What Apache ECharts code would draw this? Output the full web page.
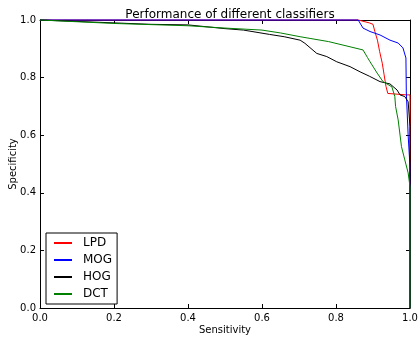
<!DOCTYPE html>
<html>
<head>
<meta charset="utf-8">
<script src="https://cdn.jsdelivr.net/npm/echarts@6/dist/echarts.min.js"></script>
<style>
  html, body { margin: 0; padding: 0; background: #fff; }
  #chart { width: 418px; height: 338px; }
</style>
</head>
<body>
<div id="chart"></div>
<script>
// ROC-style curves: [sensitivity, specificity]
const lpdPoints = [
  [0, 1], [0.86, 1], [0.89, 0.99], [0.9, 0.985], [0.905, 0.96], [0.912, 0.93],
  [0.918, 0.89], [0.925, 0.85], [0.93, 0.81], [0.935, 0.77], [0.94, 0.745],
  [0.99, 0.74], [1.0, 0.74], [1.0, 0.63], [1.0, 0]
];
const mogPoints = [
  [0, 1], [0.86, 1], [0.873, 0.972], [0.892, 0.96], [0.919, 0.948], [0.946, 0.93],
  [0.968, 0.92], [0.981, 0.903], [0.989, 0.868], [0.99, 0.75], [0.995, 0.6],
  [1.0, 0.49], [1.0, 0]
];
const hogPoints = [
  [0, 1], [0.1, 0.995], [0.2, 0.99], [0.3, 0.985], [0.4, 0.983], [0.5, 0.97],
  [0.55, 0.965], [0.62, 0.95], [0.66, 0.942], [0.703, 0.93], [0.716, 0.919],
  [0.748, 0.884], [0.775, 0.873], [0.802, 0.855], [0.838, 0.838], [0.865, 0.82],
  [0.89, 0.805], [0.919, 0.786], [0.946, 0.778], [0.965, 0.757], [0.973, 0.74],
  [0.986, 0.734], [0.995, 0.716], [1.0, 0.63], [1.0, 0]
];
const dctPoints = [
  [0, 1], [0.2, 0.988], [0.4, 0.98], [0.5, 0.972], [0.6, 0.965], [0.65, 0.955],
  [0.703, 0.942], [0.73, 0.936], [0.78, 0.925], [0.838, 0.907], [0.873, 0.896],
  [0.885, 0.87], [0.892, 0.855], [0.911, 0.816], [0.927, 0.786], [0.951, 0.768],
  [0.959, 0.734], [0.961, 0.7], [0.968, 0.653], [0.977, 0.56], [0.986, 0.514],
  [0.995, 0.469], [1.0, 0.421], [1.0, 0]
];
const seriesNames = ["LPD", "MOG", "HOG", "DCT"];
const seriesColors = ["#ff0000", "#0000ff", "#000000", "#008000"];
const tickLabels = ["0.0", "0.2", "0.4", "0.6", "0.8", "1.0"];

const chart = echarts.init(document.getElementById("chart"));
const font = "DejaVu Sans";

function axisBase(show) {
  return {
    type: "value",
    min: 0,
    max: 1,
    interval: 0.2,
    axisLine: { show: true, onZero: false, lineStyle: { color: "#000", width: 1 } },
    axisTick: { show: true, inside: true, length: 4, lineStyle: { color: "#000" } },
    axisLabel: {
      show: show,
      color: "#000",
      fontFamily: font,
      fontSize: 10,
      formatter: (v) => tickLabels[Math.round(v / 0.2)]
    },
    splitLine: { show: false }
  };
}

const option = {
  backgroundColor: "#fff",
  animation: false,
  title: {
    text: "Performance of different classifiers",
    left: 225,
    textAlign: "center",
    top: 4,
    textStyle: { fontFamily: font, fontSize: 12, fontWeight: "normal", color: "#000" }
  },
  legend: {
    data: seriesNames,
    orient: "vertical",
    left: 46,
    top: 233,
    icon: "rect",
    borderColor: "#000",
    borderWidth: 1,
    padding: [3, 5, 3, 8],
    itemGap: 3,
    itemWidth: 18,
    itemHeight: 2,
    textStyle: { fontFamily: font, fontSize: 12, color: "#000", padding: [0, 0, 0, 6], lineHeight: 14 }
  },
  grid: { left: 40, right: 8, top: 20, bottom: 30, containLabel: false, outerBoundsMode: "none" },
  xAxis: [
    Object.assign(axisBase(true), {
      position: "bottom",
      name: "Sensitivity",
      nameLocation: "middle",
      nameGap: 17,
      nameMoveOverlap: false,
      nameTextStyle: { fontFamily: font, fontSize: 10, color: "#000" },
      axisLabel: Object.assign(axisBase(true).axisLabel, { margin: 5 })
    }),
    Object.assign(axisBase(false), { position: "top" })
  ],
  yAxis: [
    Object.assign(axisBase(true), {
      position: "left",
      name: "Specificity",
      nameLocation: "middle",
      nameGap: 22,
      nameMoveOverlap: false,
      nameTextStyle: { fontFamily: font, fontSize: 10, color: "#000" },
      axisLabel: Object.assign(axisBase(true).axisLabel, { margin: 4 })
    }),
    Object.assign(axisBase(false), { position: "right" })
  ],
  series: [lpdPoints, mogPoints, hogPoints, dctPoints].map((pts, i) => ({
    name: seriesNames[i],
    type: "line",
    data: pts,
    symbol: "none",
    clip: false,
    lineStyle: { width: 1, color: seriesColors[i] },
    itemStyle: { color: seriesColors[i] }
  }))
};

chart.setOption(option);
</script>
</body>
</html>
